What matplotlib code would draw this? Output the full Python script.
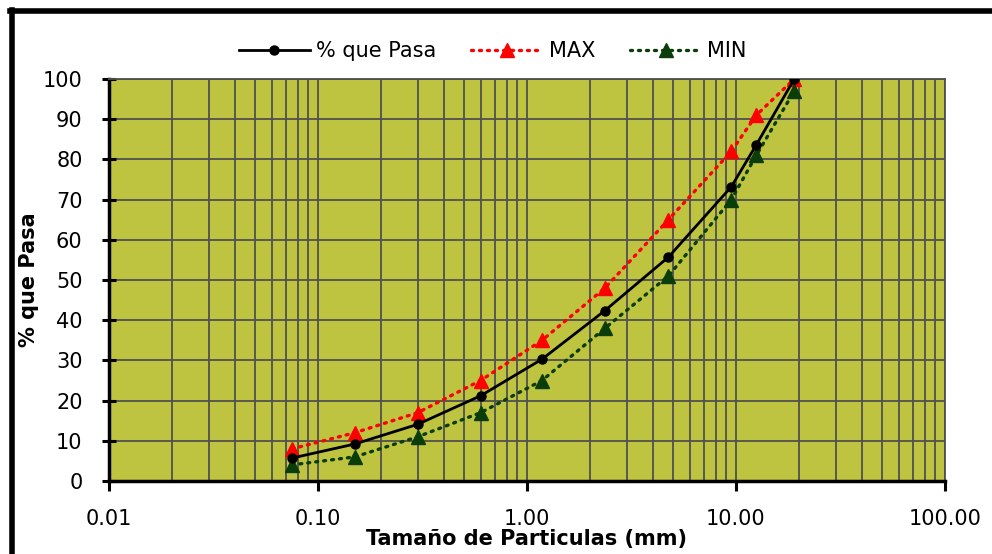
import numpy as np
import matplotlib
matplotlib.use("Agg")
import matplotlib.pyplot as plt
from matplotlib.ticker import LogLocator, FixedLocator, NullFormatter
from matplotlib.lines import Line2D

plt.rcParams['font.family'] = ['DejaVu Sans']

# sieve openings (mm) and curves
sizes = [0.075, 0.15, 0.3, 0.6, 1.18, 2.36, 4.75, 9.5, 12.5, 19.0]
passing = [5.7, 9.2, 14.1, 21.2, 30.3, 42.4, 55.7, 73.2, 83.6, 100]
upper = [8, 12, 17, 25, 35, 48, 65, 82, 91, 100]
lower = [4, 6, 11, 17, 25, 38, 51, 70, 81, 97]

x_ticks = [0.01, 0.1, 1, 10, 100]
x_labels = ['0.01', '0.10', '1.00', '10.00', '100.00']
y_ticks = list(range(0, 101, 10))

fig = plt.figure(figsize=(9.92, 5.54), dpi=100)
ax = fig.add_axes([109 / 992, 1 - 481 / 554, (945 - 109) / 992, (481 - 79) / 554])
ax.set_facecolor('#BEC43F')

ax.plot(sizes, passing, color='black', lw=2.0, marker='o', ms=6.5, label='% que Pasa', zorder=5)
ax.plot(sizes, upper, color='#FF0000', lw=2.4, ls=(0, (0.6, 1.8)), dash_capstyle='round',
        marker='^', ms=9.5, label='MAX', zorder=4)
ax.plot(sizes, lower, color='#0A3D0A', lw=2.4, ls=(0, (0.6, 1.8)), dash_capstyle='round',
        marker='^', ms=9.5, label='MIN', zorder=4)

ax.set_xscale('log')
ax.set_xlim(0.01, 100)
ax.set_ylim(0, 100)

ax.xaxis.set_major_locator(FixedLocator(x_ticks))
ax.set_xticklabels(x_labels)
ax.xaxis.set_minor_locator(LogLocator(base=10, subs=np.arange(2, 10)))
ax.xaxis.set_minor_formatter(NullFormatter())
ax.set_yticks(y_ticks)

grid_col = '#505050'
ax.grid(True, which='major', axis='both', color=grid_col, lw=1.3, zorder=1)
ax.grid(True, which='minor', axis='x', color=grid_col, lw=1.3, zorder=1)
ax.set_axisbelow(True)

for s in ['left', 'bottom']:
    ax.spines[s].set_linewidth(2.5)
    ax.spines[s].set_color('black')
for s in ['top', 'right']:
    ax.spines[s].set_linewidth(1.3)
    ax.spines[s].set_color(grid_col)

ax.tick_params(axis='y', which='major', direction='inout', length=10, width=2.2,
               labelsize=15, pad=14)
ax.tick_params(axis='x', which='major', direction='out', length=7, width=2.2,
               labelsize=15, pad=13)
ax.tick_params(axis='x', which='minor', length=0)

ax.set_ylabel('% que Pasa', fontsize=15, fontweight='bold', labelpad=3)
ax.set_xlabel('Tamaño de Particulas (mm)', fontsize=15, fontweight='bold', labelpad=0)

ax.legend(loc='lower center', bbox_to_anchor=(0.459, 1.0), ncol=3, frameon=False,
          fontsize=15, handlelength=3.4, columnspacing=1.7, handletextpad=0.3,
          borderaxespad=0.45)

# outer chart frame (top and left edges visible)
fig.add_artist(Line2D([12 / 992, 12 / 992], [0, 1 - 10 / 554], color='black', lw=4,
                      transform=fig.transFigure))
fig.add_artist(Line2D([10 / 992, 1], [1 - 11 / 554, 1 - 11 / 554], color='black', lw=4,
                      transform=fig.transFigure))

fig.savefig('out.png', dpi=100)
